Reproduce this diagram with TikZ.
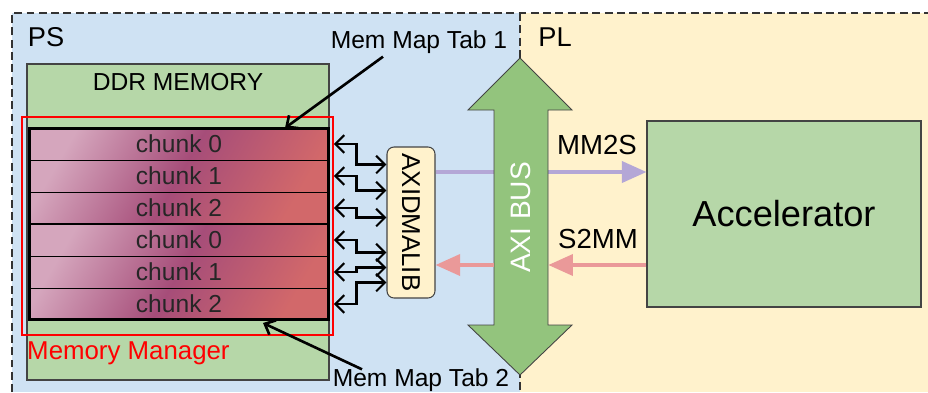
\documentclass[tikz,border=0pt]{standalone}
\usepackage{fontspec}
\setmainfont{Liberation Sans}
\usepackage{graphicx}
\usetikzlibrary{arrows.meta,calc,positioning,fit}
\definecolor{PSBlue}{RGB}{207,226,243}
\definecolor{PLCream}{RGB}{255,242,204}
\definecolor{MemGreen}{RGB}{182,215,168}
\definecolor{BusGreen}{RGB}{147,196,125}
\definecolor{ChunkPink}{RGB}{213,166,189}
\definecolor{ChunkPlum}{RGB}{166,77,121}
\definecolor{ChunkRed}{RGB}{210,104,106}
\definecolor{ReadPurple}{RGB}{180,167,214}
\definecolor{WriteRose}{RGB}{234,153,153}
\definecolor{EdgeGray}{RGB}{68,68,68}

\tikzset{
    region/.style={draw=black!80, line width=0.8pt, dash pattern=on 4.5pt off 2.5pt},
    greenbox/.style={draw=EdgeGray, line width=0.6pt, fill=MemGreen, inner sep=0pt},
    group/.style={draw=black, line width=1.7pt, outer sep=0pt, minimum width=6cm, minimum height=1.92cm,
        left color=ChunkPink, right color=ChunkRed, middle color=ChunkPlum, shading angle=60},
    chunkbox/.style={draw=black, line width=0.5pt, outer sep=0pt, inner sep=0pt,
        minimum width=6cm, minimum height=0.64cm, text=black!85},
    ptr/.style={line width=1.5pt, -{Straight Barb[length=5pt,width=9pt]}},
    link/.style={line width=1.2pt, {Straight Barb[length=5pt,width=10pt]}-{Straight Barb[length=5pt,width=10pt]}},
    readarrow/.style={ReadPurple, line width=2pt, -{Triangle[length=14pt,width=12pt]}},
    writearrow/.style={WriteRose, line width=2pt, -{Triangle[length=14pt,width=12pt]}}
}

\begin{document}
\begin{tikzpicture}[x=0.02cm, y=-0.02cm, font=\fontsize{14}{16}\selectfont]
    \useasboundingbox (0,0) rectangle (928,392);
    % PS and PL regions
    \fill[PSBlue] (12,13) rectangle (520,392);
    \fill[PLCream] (520,13) rectangle (928,392);
    \draw[region] (12,392) -- (12,13) -- (928,13);
    \draw[region] (520,13) -- (520,392);
    \node[font=\fontsize{15.5}{18}\selectfont] (ps) at (46,37) {PS};
    \node[font=\fontsize{15.5}{18}\selectfont] (pl) at (555,37) {PL};
    % DDR memory with two chunk tables
    \node[greenbox, fit={(27,64) (329,380)}, label={[anchor=north, yshift=-2pt]north:DDR MEMORY}] (ddr) {};
    \node[group] (grp1) at (179,176) {};
    \node[group, below=0pt of grp1] (grp2) {};
    \node[chunkbox, below=0pt of grp1.north] (c1) {chunk 0};
    \node[chunkbox, below=0pt of c1] (c2) {chunk 1};
    \node[chunkbox, below=0pt of c2] (c3) {chunk 2};
    \node[chunkbox, below=0pt of grp2.north] (c4) {chunk 0};
    \node[chunkbox, below=0pt of c4] (c5) {chunk 1};
    \node[chunkbox, below=0pt of c5] (c6) {chunk 2};
    \node[draw=red, line width=1.1pt, inner sep=0pt, fit={(22,117) (333,335)},
        label={[anchor=north west, text=red, font=\fontsize{14.7}{17}\selectfont]south west:Memory Manager}] (mgr) {};
    % Table pointers
    \node (tab1) at (419,42) {Mem Map Tab 1};
    \node (tab2) at (421,380) {Mem Map Tab 2};
    \draw[ptr] ($(tab1.south)+(-36,-3)$) -- ($(grp1.north)+(106,0)$);
    \draw[ptr] ($(tab2.north)+(-59,7)$) -- ($(grp2.south)+(84,3)$);
    % DMA engine
    \node[draw=EdgeGray, line width=0.6pt, fill=PLCream, rounded corners=4pt, inner sep=0pt,
        fit={(387,147) (435,298)},
        label={[font=\fontsize{14.7}{17}\selectfont]center:\rotatebox{-90}{AXIDMALIB}}] (dma) {};
    \foreach \i/\dy in {1/-58,2/-32,3/-5,4/30,5/45,6/60} {
        \draw[link] (mgr.east |- c\i) -| ($(dma.west)+(-30,\dy)$) -- ($(dma.west)+(0,\dy)$);
    }
    % Accelerator
    \node[greenbox, fit={(647,121) (921,307)},
        label={[font=\fontsize{20.6}{24}\selectfont]center:Accelerator}] (acc) {};
    \coordinate (mm) at ($(acc.west)+(0,-42)$);
    \coordinate (sm) at ($(acc.west)+(0,51)$);
    \draw[readarrow] (dma.east |- mm) -- (mm);
    % AXI bus
    \draw[EdgeGray, line width=0.5pt, fill=BusGreen] (520,58) -- (572,110) -- (548,110) -- (548,325)
        -- (572,325) -- (520,375) -- (468,325) -- (494,325) -- (494,110) -- (468,110) -- cycle;
    \node[inner sep=0pt, fit={(494,110) (548,325)},
        label={[text=white, font=\fontsize{16}{18}\selectfont]center:\rotatebox{90}{AXI BUS}}] (bus) {};
    \draw[writearrow] (sm) -- (bus.east |- sm);
    \draw[writearrow] (bus.west |- sm) -- (dma.east |- sm);
    \node[font=\fontsize{15.7}{18}\selectfont] (mm2s) at (597,145) {MM2S};
    \node[font=\fontsize{15.7}{18}\selectfont] (s2mm) at (598,239) {S2MM};
\end{tikzpicture}
\end{document}
